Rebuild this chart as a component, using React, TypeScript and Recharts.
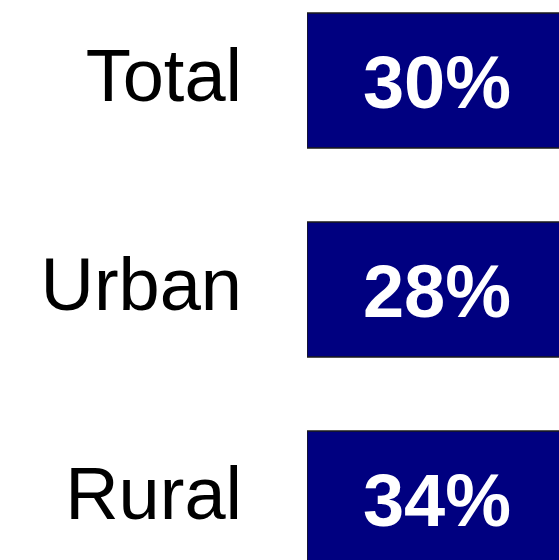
import { BarChart, Bar, XAxis, YAxis, LabelList } from 'recharts';

const categories = ['Total', 'Urban', 'Rural'];
const shares = [30, 28, 34];

const chartData = categories.map((name, i) => ({ name, share: shares[i] }));

const FONT = "'Liberation Sans', Arial, sans-serif";

const CategoryTick = ({ x, y, payload }: any) => (
  <text
    x={x}
    y={y - 5}
    textAnchor="end"
    dominantBaseline="central"
    fontFamily={FONT}
    fontSize={74}
    fill="#000"
  >
    {payload.value}
  </text>
);

const ShareLabel = ({ x, y, height, value }: any) => (
  <text
    x={x + 130}
    y={y + height / 2 + 2}
    textAnchor="middle"
    dominantBaseline="central"
    fontFamily={FONT}
    fontWeight="bold"
    fontSize={74}
    fill="#fff"
  >
    {value}%
  </text>
);

export default function App() {
  return (
    <div
      style={{
        position: 'fixed',
        left: 0,
        top: 0,
        width: 559,
        height: 560,
        overflow: 'hidden',
        background: '#fff',
      }}
    >
      <div style={{ position: 'absolute', left: 0, top: -24 }}>
        <BarChart
          layout="vertical"
          width={559}
          height={627}
          data={chartData}
          margin={{ top: 0, right: 0, left: 0, bottom: 0 }}
        >
          <XAxis type="number" hide domain={[0, 26]} allowDataOverflow />
          <YAxis
            type="category"
            dataKey="name"
            width={307}
            axisLine={false}
            tickLine={false}
            tickSize={0}
            tickMargin={65}
            tick={<CategoryTick />}
          />
          <Bar
            dataKey="share"
            fill="#000080"
            stroke="#1a1a1a"
            strokeWidth={1.5}
            barSize={135}
            isAnimationActive={false}
          >
            <LabelList dataKey="share" content={<ShareLabel />} />
          </Bar>
        </BarChart>
      </div>
    </div>
  );
}
